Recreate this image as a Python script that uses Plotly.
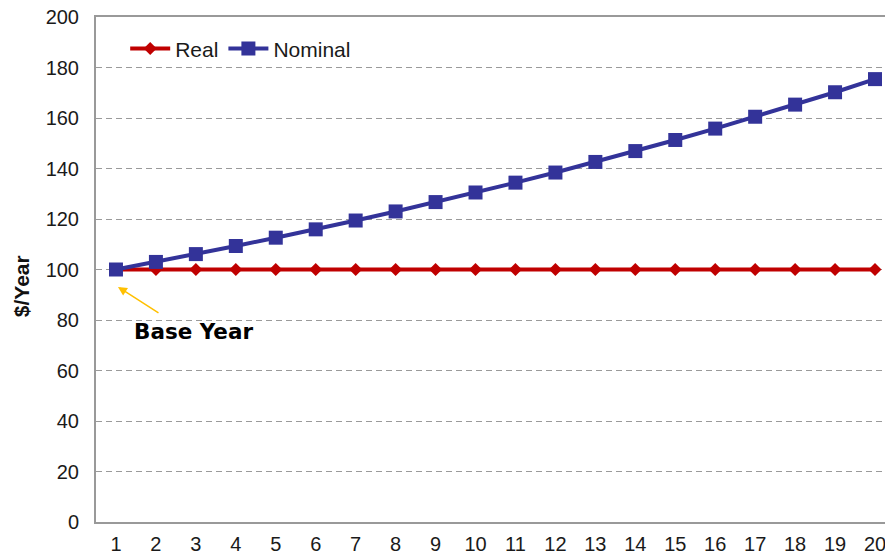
import plotly.graph_objects as go

years = list(range(1, 21))
real = [100] * 20
nominal = [100, 103, 106.1, 109.3, 112.6, 115.9, 119.4, 123.0, 126.7, 130.5,
           134.4, 138.4, 142.6, 146.9, 151.3, 155.8, 160.5, 165.3, 170.2, 175.4]
y_ticks = [0, 20, 40, 60, 80, 100, 120, 140, 160, 180, 200]

FONT = "Liberation Sans, Arial, sans-serif"

fig = go.Figure()
fig.add_trace(go.Scatter(
    x=years, y=real, name="Real", mode="lines+markers",
    line=dict(color="#C00000", width=4),
    marker=dict(symbol="diamond", size=10, color="#C00000"),
    cliponaxis=False,
))
fig.add_trace(go.Scatter(
    x=years, y=nominal, name="Nominal", mode="lines+markers",
    line=dict(color="#333399", width=4),
    marker=dict(symbol="square", size=14, color="#333399"),
    cliponaxis=False,
))

fig.update_layout(
    width=885, height=556,
    margin=dict(l=96, r=0, t=17, b=34, autoexpand=False),
    paper_bgcolor="white", plot_bgcolor="white",
    font=dict(family=FONT, size=20, color="#1a1a1a"),
    showlegend=True,
    legend=dict(
        orientation="h", x=0.037, y=0.937, xanchor="left", yanchor="middle",
        bgcolor="rgba(0,0,0,0)", font=dict(size=21, color="#1a1a1a"),
        itemwidth=40, tracegroupgap=0,
    ),
    xaxis=dict(
        range=[0.5, 20.25], tickmode="array", tickvals=years,
        showgrid=False, zeroline=False, automargin=False,
        showline=True, linecolor="#999999", linewidth=2, mirror=True,
        ticks="outside", ticklen=3, tickcolor="rgba(0,0,0,0)",
        tickfont=dict(size=20), ticklabeloverflow="allow",
    ),
    yaxis=dict(
        range=[0, 200], tickmode="array", tickvals=y_ticks,
        showgrid=True, gridcolor="#9a9a9a", gridwidth=1, griddash="6px,4px",
        zeroline=False, automargin=False,
        showline=True, linecolor="#999999", linewidth=2,
        ticks="outside", ticklen=11, tickcolor="rgba(0,0,0,0)",
        tickfont=dict(size=20), ticklabeloverflow="allow",
    ),
    annotations=[
        dict(text="<b>$/Year</b>", xref="paper", yref="paper",
             x=-0.095, y=0.467, xanchor="center", yanchor="middle",
             textangle=-90, showarrow=False,
             font=dict(size=21, color="#111111")),
        dict(text="<b>Base Year</b>", xref="x", yref="y",
             x=2.94, y=75.6, showarrow=False,
             font=dict(family="DejaVu Sans, Verdana, sans-serif", size=21.5, color="#000000")),
        dict(text="", xref="x", yref="y", x=1.05, y=93.1,
             showarrow=True, ax=42, ay=27, axref="pixel", ayref="pixel",
             arrowhead=2, arrowsize=1.2, arrowwidth=1.5, arrowcolor="#FFC000"),
    ],
)

fig.write_html(
    "out.html",
    config={"displayModeBar": False},
    post_script="document.body.style.margin='0';document.body.style.overflow='hidden';",
)
